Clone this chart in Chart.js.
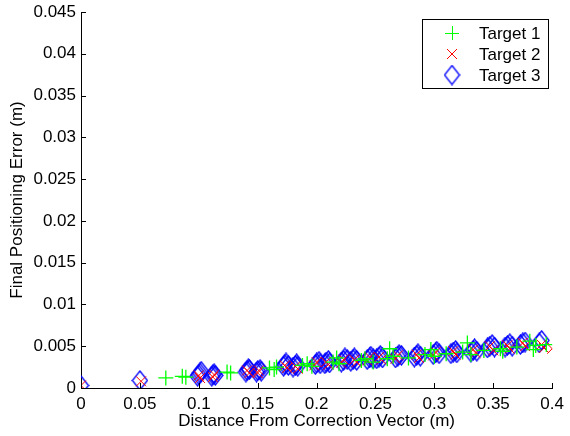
<!DOCTYPE html>
<html>
<head>
<meta charset="utf-8">
<script src="https://cdn.jsdelivr.net/npm/chart.js@4/dist/chart.umd.min.js"></script>
<style>
  body { margin: 0; background: #fff; }
  canvas { display: block; }
</style>
</head>
<body>
<canvas id="grafico" width="570" height="436"></canvas>
<script>
// datos
const xTickValues = [0, 0.05, 0.1, 0.15, 0.2, 0.25, 0.3, 0.35, 0.4]
const xTickLabels = ["0", "0.05", "0.1", "0.15", "0.2", "0.25", "0.3", "0.35", "0.4"]
const yTickValues = [0, 0.005, 0.01, 0.015, 0.02, 0.025, 0.03, 0.035, 0.04, 0.045]
const yTickLabels = ["0", "0.005", "0.01", "0.015", "0.02", "0.025", "0.03", "0.035", "0.04", "0.045"]
const seriesNames = ["Target 1", "Target 2", "Target 3"]

const target1X = [0.072, 0.086, 0.089, 0.124, 0.127, 0.160, 0.164, 0.166, 0.188, 0.192, 0.196, 0.214, 0.217, 0.219, 0.238, 0.241, 0.248, 0.260, 0.262, 0.265, 0.278, 0.292, 0.297, 0.300, 0.310, 0.324, 0.328, 0.331, 0.342, 0.356, 0.358, 0.370, 0.381, 0.384, 0.386, 0.395]
const target1Y = [0.0012, 0.0014, 0.0013, 0.0019, 0.0018, 0.0024, 0.0022, 0.0025, 0.0027, 0.0029, 0.0026, 0.0031, 0.0036, 0.0029, 0.0033, 0.0035, 0.0031, 0.0035, 0.0047, 0.0038, 0.0036, 0.0040, 0.0046, 0.0038, 0.0041, 0.0043, 0.0054, 0.0040, 0.0045, 0.0047, 0.0044, 0.0049, 0.0056, 0.0046, 0.0051, 0.0052]

const target2X = [0.000, 0.051, 0.100, 0.101, 0.113, 0.112, 0.141, 0.143, 0.151, 0.150, 0.173, 0.175, 0.182, 0.184, 0.200, 0.198, 0.208, 0.210, 0.223, 0.221, 0.232, 0.234, 0.245, 0.243, 0.253, 0.255, 0.269, 0.267, 0.285, 0.287, 0.301, 0.299, 0.316, 0.318, 0.333, 0.335, 0.347, 0.350, 0.362, 0.364, 0.375, 0.377, 0.391, 0.393, 0.400]
const target2Y = [0.0003, 0.0008, 0.0015, 0.0012, 0.0016, 0.0013, 0.0021, 0.0018, 0.0021, 0.0018, 0.0027, 0.0024, 0.0026, 0.0023, 0.0031, 0.0027, 0.0031, 0.0028, 0.0034, 0.0030, 0.0034, 0.0031, 0.0037, 0.0033, 0.0037, 0.0034, 0.0039, 0.0035, 0.0040, 0.0036, 0.0043, 0.0039, 0.0044, 0.0040, 0.0046, 0.0042, 0.0050, 0.0045, 0.0051, 0.0047, 0.0054, 0.0050, 0.0052, 0.0048, 0.0047]

const target3X = [0.000, 0.050,
  0.099, 0.100, 0.101, 0.102, 0.111, 0.112, 0.113, 0.114,
  0.140, 0.141, 0.142, 0.143, 0.149, 0.150, 0.152, 0.153,
  0.172, 0.173, 0.174, 0.176, 0.180, 0.182, 0.183, 0.184,
  0.199, 0.200, 0.202, 0.203, 0.207, 0.208, 0.210, 0.211,
  0.221, 0.223, 0.224, 0.226, 0.229, 0.231, 0.232, 0.234,
  0.243, 0.245, 0.246, 0.248, 0.251, 0.253, 0.254, 0.256,
  0.267, 0.269, 0.270, 0.272, 0.283, 0.285, 0.286, 0.288,
  0.299, 0.301, 0.302, 0.304, 0.314, 0.316, 0.318, 0.319,
  0.331, 0.333, 0.334, 0.336, 0.345, 0.347, 0.349, 0.351,
  0.360, 0.362, 0.364, 0.366, 0.373, 0.375, 0.377, 0.389, 0.391]
const target3Y = [0.0003, 0.0009,
  0.0014, 0.0016, 0.0018, 0.0020, 0.0014, 0.0016, 0.0017, 0.0015,
  0.0019, 0.0021, 0.0023, 0.0022, 0.0019, 0.0021, 0.0022, 0.0020,
  0.0026, 0.0028, 0.0030, 0.0027, 0.0025, 0.0027, 0.0029, 0.0026,
  0.0028, 0.0030, 0.0032, 0.0029, 0.0029, 0.0031, 0.0033, 0.0030,
  0.0031, 0.0033, 0.0036, 0.0034, 0.0032, 0.0034, 0.0036, 0.0033,
  0.0034, 0.0036, 0.0038, 0.0035, 0.0035, 0.0037, 0.0039, 0.0036,
  0.0036, 0.0038, 0.0040, 0.0039, 0.0037, 0.0039, 0.0041, 0.0038,
  0.0040, 0.0042, 0.0044, 0.0041, 0.0041, 0.0043, 0.0045, 0.0042,
  0.0043, 0.0045, 0.0047, 0.0044, 0.0048, 0.0050, 0.0052, 0.0049,
  0.0049, 0.0051, 0.0053, 0.0050, 0.0052, 0.0054, 0.0055, 0.0054, 0.0057]

function puntos(xs, ys) {
  return xs.map((x, i) => ({ x: x, y: ys[i] }))
}

// rombo como en matlab (mas alto que ancho)
function crearRombo() {
  const c = document.createElement("canvas")
  c.width = 17
  c.height = 21
  const ctx = c.getContext("2d")
  ctx.strokeStyle = "#0000ff"
  ctx.lineWidth = 1.3
  ctx.beginPath()
  ctx.moveTo(8.5, 1)
  ctx.lineTo(16, 10.5)
  ctx.lineTo(8.5, 20)
  ctx.lineTo(1, 10.5)
  ctx.closePath()
  ctx.stroke()
  return c
}
const rombo = crearRombo()

const fuente = "'Liberation Sans', Arial, Helvetica, sans-serif"
Chart.defaults.font.family = fuente
Chart.defaults.color = "#000"

const ticksHaciaDentro = {
  id: "ticksHaciaDentro",
  afterDraw(chart) {
    const ctx = chart.ctx
    const xs = chart.scales.x
    const ys = chart.scales.y
    const area = chart.chartArea
    ctx.save()
    ctx.strokeStyle = "#000"
    ctx.lineWidth = 1
    ctx.beginPath()
    xTickValues.forEach(v => {
      const px = Math.round(xs.getPixelForValue(v)) + 0.5
      ctx.moveTo(px, area.bottom)
      ctx.lineTo(px, area.bottom - 5)
    })
    yTickValues.forEach(v => {
      const py = Math.round(ys.getPixelForValue(v)) + 0.5
      ctx.moveTo(area.left, py)
      ctx.lineTo(area.left + 5, py)
    })
    ctx.stroke()
    ctx.restore()
  }
}

const leyendaCaja = {
  id: "leyendaCaja",
  afterDraw(chart) {
    const ctx = chart.ctx
    const left = 422.5, top = 19.5, w = 126, h = 69
    ctx.save()
    ctx.fillStyle = "#fff"
    ctx.fillRect(left, top, w, h)
    ctx.strokeStyle = "#000"
    ctx.lineWidth = 1
    ctx.strokeRect(left, top, w, h)
    const filas = [33, 54, 75]
    chart.data.datasets.forEach((ds, i) => {
      const y = filas[i]
      const mx = 452
      if (ds.pointStyle instanceof HTMLCanvasElement) {
        ctx.drawImage(ds.pointStyle, mx - ds.pointStyle.width / 2, y - ds.pointStyle.height / 2)
      } else {
        ctx.strokeStyle = ds.borderColor
        ctx.lineWidth = 1
        ctx.beginPath()
        if (ds.pointStyle === "cross") {
          ctx.moveTo(mx - 7, y + 0.5); ctx.lineTo(mx + 7, y + 0.5)
          ctx.moveTo(mx + 0.5, y - 7); ctx.lineTo(mx + 0.5, y + 7)
        } else {
          ctx.moveTo(mx - 5, y - 5); ctx.lineTo(mx + 5, y + 5)
          ctx.moveTo(mx - 5, y + 5); ctx.lineTo(mx + 5, y - 5)
        }
        ctx.stroke()
      }
      ctx.fillStyle = "#000"
      ctx.font = "17px " + fuente
      ctx.textBaseline = "middle"
      ctx.textAlign = "left"
      ctx.fillText(ds.label, 479, y + 1)
    })
    ctx.restore()
  }
}

const config = {
  type: "scatter",
  data: {
    datasets: [
      {
        label: seriesNames[0],
        data: puntos(target1X, target1Y),
        pointStyle: "cross",
        pointRadius: 7.5,
        borderColor: "#00ff00",
        backgroundColor: "#00ff00",
        borderWidth: 1.3,
        order: 1
      },
      {
        label: seriesNames[1],
        data: puntos(target2X, target2Y),
        pointStyle: "crossRot",
        pointRadius: 7,
        borderColor: "#ff0000",
        backgroundColor: "#ff0000",
        borderWidth: 1,
        order: 2
      },
      {
        label: seriesNames[2],
        data: puntos(target3X, target3Y),
        pointStyle: rombo,
        pointRadius: 9,
        borderColor: "#0000ff",
        backgroundColor: "#0000ff",
        borderWidth: 1,
        order: 3
      }
    ]
  },
  options: {
    responsive: false,
    animation: false,
    devicePixelRatio: 1,
    layout: { padding: { left: 0, right: 2, top: 12, bottom: 0 } },
    plugins: {
      legend: { display: false },
      tooltip: { enabled: false }
    },
    scales: {
      x: {
        type: "linear",
        min: 0,
        max: 0.4,
        afterBuildTicks: (scale) => { scale.ticks = xTickValues.map(v => ({ value: v })) },
        afterFit: (scale) => { scale.height = 48 },
        grid: { display: false, drawTicks: false },
        border: { display: true, color: "#000", width: 1 },
        ticks: {
          padding: 6,
          maxRotation: 0,
          font: { size: 17 },
          callback: (v, i) => xTickLabels[i]
        },
        title: {
          display: true,
          text: "Distance From Correction Vector (m)",
          font: { size: 17 },
          padding: { top: 0, bottom: 4 }
        }
      },
      y: {
        type: "linear",
        min: 0,
        max: 0.045,
        afterBuildTicks: (scale) => { scale.ticks = yTickValues.map(v => ({ value: v })) },
        afterFit: (scale) => {
          scale.width = 81
          scale.paddingTop = 0
          scale.paddingBottom = 0
        },
        grid: { display: false, drawTicks: false },
        border: { display: true, color: "#000", width: 1 },
        ticks: {
          padding: 5,
          font: { size: 17 },
          callback: (v, i) => yTickLabels[i]
        },
        title: {
          display: true,
          text: "Final Positioning Error (m)",
          font: { size: 17 },
          padding: { top: 7, bottom: 0 }
        }
      }
    }
  },
  plugins: [ticksHaciaDentro, leyendaCaja]
}

new Chart(document.getElementById("grafico"), config)
</script>
</body>
</html>
